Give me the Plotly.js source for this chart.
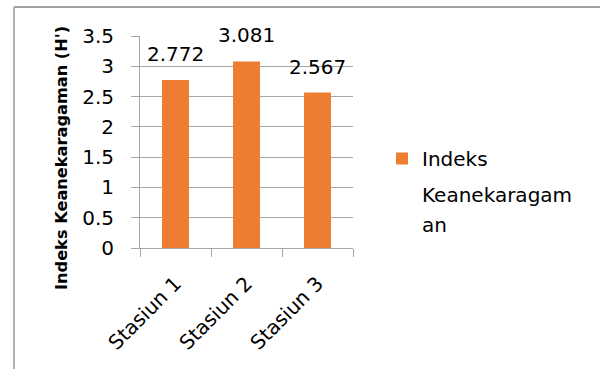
<!DOCTYPE html>
<html>
<head>
<meta charset="utf-8">
<script src="https://cdn.plot.ly/plotly-3.0.1.min.js"></script>
<style>html,body{margin:0;padding:0;background:#fff;}#chart{width:600px;height:369px;}</style>
</head>
<body>
<div id="chart"></div>
<script>
var categories = ["Stasiun 1", "Stasiun 2", "Stasiun 3"];
var values = [2.772, 3.081, 2.567];
var seriesName = "Indeks Keanekaragaman";
var yTitle = "Indeks Keanekaragaman (H')";
var legendLines = ["Indeks", "Keanekaragam", "an"];

var FONT = "DejaVu Sans, sans-serif";
var GRID = "#a6a6a6";
var ORANGE = "#ed7d31";

// pixel -> paper helpers for decoration placement (plot area 140..353 x, 36..248 y)
var L = 140, R = 247, T = 36, B = 121, W = 600, H = 369;
var pw = W - L - R, ph = H - T - B;
function px2x(px){ return (px - L) / pw; }
function py2y(py){ return (H - B - py) / ph; }

var trace = {
  type: "bar",
  x: categories,
  y: values,
  name: legendLines[0],
  marker: {color: ORANGE},
  showlegend: true,
  hoverinfo: "none"
};

var annotations = values.map(function(v, i){
  return {
    x: categories[i], y: v, xref: "x", yref: "y",
    text: v.toFixed(3), showarrow: false,
    yanchor: "bottom", yshift: 12,
    font: {family: FONT, size: 20, color: "#000"}
  };
});
annotations.push({
  xref: "paper", yref: "paper", x: px2x(61), y: py2y(158),
  text: "<b>" + yTitle + "</b>", textangle: -90, showarrow: false,
  xanchor: "center", yanchor: "middle",
  font: {family: FONT, size: 16.2, color: "#000"}
});
annotations.push({
  xref: "paper", yref: "paper", x: px2x(420), y: py2y(195),
  text: legendLines[1], showarrow: false, xanchor: "left", yanchor: "middle",
  font: {family: FONT, size: 20, color: "#000"}
});
annotations.push({
  xref: "paper", yref: "paper", x: px2x(420), y: py2y(225),
  text: legendLines[2], showarrow: false, xanchor: "left", yanchor: "middle",
  font: {family: FONT, size: 20, color: "#000"}
});

var layout = {
  width: W, height: H,
  margin: {l: L, r: R, t: T, b: B, pad: 0},
  paper_bgcolor: "#fff", plot_bgcolor: "#fff",
  font: {family: FONT, size: 20, color: "#000"},
  bargap: 0.62,
  xaxis: {
    type: "category",
    tickson: "boundaries",
    ticks: "outside", ticklen: 8, tickcolor: GRID, tickwidth: 1,
    showline: true, linecolor: GRID, linewidth: 1,
    tickangle: -45,
    ticklabelstandoff: 15,
    tickfont: {family: FONT, size: 20, color: "#000"},
    showgrid: false, fixedrange: true
  },
  yaxis: {
    range: [0, 3.5], dtick: 0.5, tick0: 0,
    ticks: "outside", ticklen: 8, tickcolor: GRID, tickwidth: 1,
    showline: true, linecolor: GRID, linewidth: 1,
    showgrid: true, gridcolor: GRID, gridwidth: 1,
    zeroline: false,
    ticklabelstandoff: 13,
    tickfont: {family: FONT, size: 20, color: "#000"},
    fixedrange: true
  },
  showlegend: true,
  legend: {
    xref: "container", yref: "container",
    x: 382 / W, y: 1 - 139 / H, xanchor: "left", yanchor: "top",
    font: {family: FONT, size: 20, color: "#000"},
    bgcolor: "rgba(0,0,0,0)", borderwidth: 0
  },
  annotations: annotations,
  shapes: [
    {type: "line", xref: "paper", yref: "paper", x0: px2x(14), x1: px2x(600), y0: py2y(7), y1: py2y(7), line: {color: "#a0a0a0", width: 2}},
    {type: "line", xref: "paper", yref: "paper", x0: px2x(14), x1: px2x(14), y0: py2y(7), y1: py2y(369), line: {color: "#b0b0b0", width: 2}}
  ]
};

Plotly.newPlot("chart", [trace], layout, {staticPlot: true, displayModeBar: false});
</script>
</body>
</html>
